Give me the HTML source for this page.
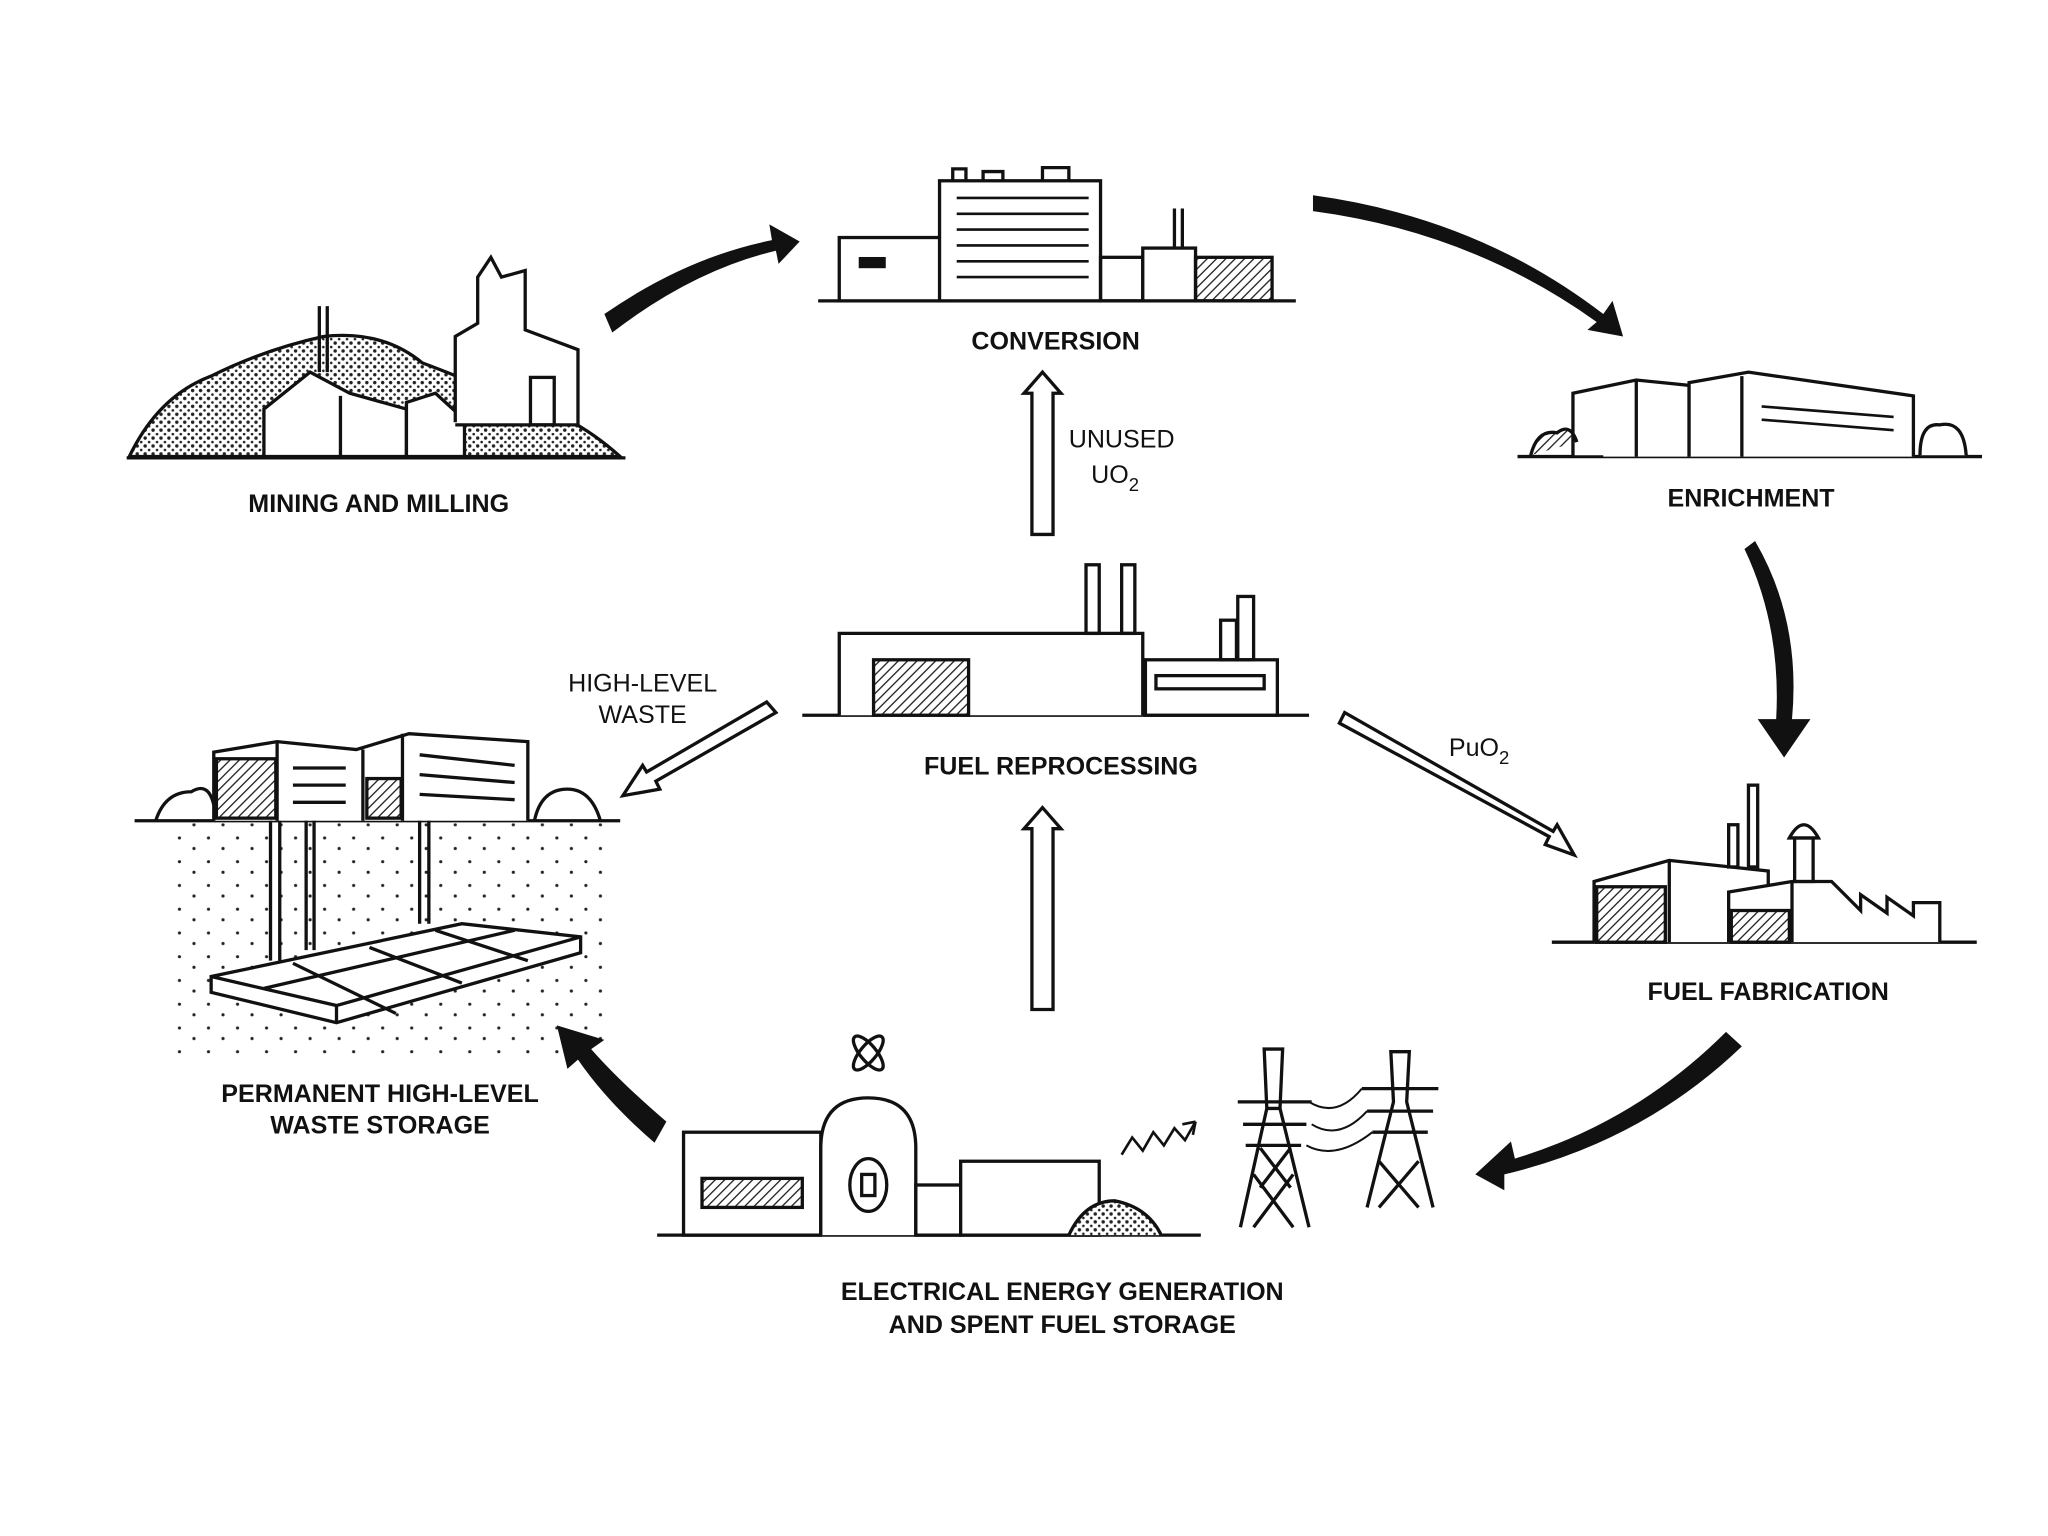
<!DOCTYPE html>
<html><head><meta charset="utf-8"><style>
html,body{margin:0;padding:0;background:#fff}
svg{display:block}
text{font-family:"Liberation Sans",Arial,sans-serif;fill:#111}
.b{font-weight:bold;font-size:19px}
.n{font-size:19px}
</style></head><body>
<svg width="2048" height="1536" viewBox="0 0 1552 1164" xmlns="http://www.w3.org/2000/svg">
<defs>
<pattern id="dots" width="6" height="6" patternUnits="userSpaceOnUse"><rect width="6" height="6" fill="#fff"/><circle cx="2" cy="2" r="1.3" fill="#222"/><circle cx="5" cy="5" r="1" fill="#222"/></pattern>
<pattern id="sdots" width="22" height="18" patternUnits="userSpaceOnUse"><circle cx="4" cy="5" r="1.2" fill="#222"/><circle cx="15" cy="13" r="1.2" fill="#222"/></pattern>
<pattern id="hatch" width="5" height="5" patternUnits="userSpaceOnUse" patternTransform="rotate(45)"><line x1="0" y1="0" x2="0" y2="5" stroke="#222" stroke-width="2"/></pattern>
</defs>
<g fill="none" stroke="#111" stroke-width="2.5">
<!-- Mining -->
<path d="M98 346 Q120 300 160 285 Q200 265 245 255 Q290 250 320 275 Q360 290 380 300 Q430 310 470 346 Z" fill="url(#dots)"/>
<line x1="96" y1="347" x2="474" y2="347"/>
<path d="M200 346 V310 L235 282 L265 298 L308 310 V346 Z M258 300 V346" fill="#fff"/>
<path d="M308 346 V305 L330 298 L352 318 V346 Z" fill="#fff"/>
<path d="M345 320 V255 L362 245 V210 L372 195 L380 210 L398 205 V250 L438 265 V322 H345" fill="#fff"/>
<rect x="402" y="286" width="18" height="36"/>
<line x1="242" y1="232" x2="242" y2="282"/><line x1="248" y1="232" x2="248" y2="282"/>
<!-- Conversion -->
<line x1="620" y1="228" x2="982" y2="228"/>
<rect x="636" y="180" width="88" height="48" fill="#fff"/>
<rect x="652" y="196" width="18" height="6" fill="#111"/>
<rect x="712" y="137" width="122" height="91" fill="#fff"/>
<path d="M722 137 V128 H732 V137 M745 137 V130 H760 V137 M790 137 V127 H810 V137"/>
<g stroke-width="2"><line x1="725" y1="150" x2="825" y2="150"/><line x1="725" y1="162" x2="825" y2="162"/><line x1="725" y1="174" x2="825" y2="174"/><line x1="725" y1="186" x2="825" y2="186"/><line x1="725" y1="198" x2="825" y2="198"/><line x1="725" y1="210" x2="825" y2="210"/></g>
<rect x="834" y="195" width="32" height="33"/>
<rect x="866" y="188" width="40" height="40" fill="#fff"/>
<line x1="890" y1="158" x2="890" y2="188"/><line x1="896" y1="158" x2="896" y2="188"/>
<rect x="906" y="195" width="58" height="33" fill="url(#hatch)"/>
<!-- Enrichment -->
<line x1="1150" y1="346" x2="1502" y2="346"/>
<path d="M1192 346 V298 L1240 288 L1280 292 V346" fill="#fff"/>
<path d="M1192 300 V346 H1215" stroke-width="2"/>
<line x1="1240" y1="288" x2="1240" y2="346"/>
<path d="M1280 346 V290 L1325 282 L1450 300 V346" fill="#fff"/>
<line x1="1320" y1="285" x2="1320" y2="346"/>
<line x1="1335" y1="308" x2="1435" y2="316" stroke-width="2"/><line x1="1335" y1="318" x2="1435" y2="326" stroke-width="2"/>
<path d="M1160 345 Q1165 325 1180 328 Q1190 320 1195 335" fill="url(#hatch)"/>
<path d="M1455 345 Q1455 320 1470 322 Q1488 318 1490 345" fill="#fff"/>
<!-- Fuel reprocessing -->
<line x1="608" y1="542" x2="992" y2="542"/>
<path d="M636 542 V480 H866 V542" fill="#fff"/>
<rect x="662" y="500" width="72" height="42" fill="url(#hatch)"/>
<rect x="823" y="428" width="10" height="52"/><rect x="850" y="428" width="10" height="52"/>
<rect x="868" y="500" width="100" height="42" fill="#fff"/>
<rect x="876" y="512" width="82" height="10"/>
<rect x="925" y="470" width="12" height="30"/><rect x="938" y="452" width="12" height="48"/>
<!-- Waste storage -->
<line x1="102" y1="622" x2="470" y2="622"/>
<path d="M162 622 V570 L210 562 L270 568 L310 556 L400 562 V622" fill="#fff"/>
<line x1="210" y1="562" x2="210" y2="622"/>
<line x1="275" y1="568" x2="275" y2="622"/>
<line x1="305" y1="556" x2="305" y2="622"/>
<rect x="164" y="575" width="45" height="45" fill="url(#hatch)"/>
<rect x="278" y="590" width="26" height="30" fill="url(#hatch)"/>
<line x1="222" y1="582" x2="262" y2="582"/><line x1="222" y1="595" x2="262" y2="595"/><line x1="222" y1="608" x2="262" y2="608"/>
<line x1="318" y1="572" x2="390" y2="580"/><line x1="318" y1="587" x2="390" y2="593"/><line x1="318" y1="602" x2="390" y2="606"/>
<path d="M118 622 Q125 600 145 600 Q158 592 162 610"/>
<path d="M405 622 Q410 598 430 598 Q448 598 455 622"/>
<rect x="130" y="624" width="330" height="175" fill="url(#sdots)" stroke="none"/>
<line x1="205" y1="622" x2="205" y2="728"/><line x1="212" y1="622" x2="212" y2="728"/>
<line x1="232" y1="622" x2="232" y2="720"/><line x1="238" y1="622" x2="238" y2="720"/>
<line x1="318" y1="622" x2="318" y2="700"/><line x1="325" y1="622" x2="325" y2="700"/>
<path d="M160 740 L350 700 L440 710 L440 722 L255 775 L160 752 Z" fill="#fff"/>
<path d="M160 740 L255 762 L440 710 M255 762 V775 M200 749 L390 705 M222 730 L300 768 M280 718 L350 745 M330 705 L400 728"/>
<!-- Fuel fabrication -->
<line x1="1176" y1="714" x2="1498" y2="714"/>
<path d="M1208 714 V668 L1265 652 L1340 660 V714" fill="#fff"/>
<rect x="1210" y="672" width="52" height="42" fill="url(#hatch)"/>
<line x1="1265" y1="652" x2="1265" y2="714"/>
<rect x="1310" y="625" width="7" height="32"/><rect x="1325" y="595" width="7" height="62"/>
<path d="M1310 714 V676 L1358 668 H1388 L1410 690 V678 L1430 692 V680 L1450 694 V684 L1470 684 V714" fill="#fff"/>
<line x1="1358" y1="668" x2="1358" y2="714"/>
<rect x="1312" y="690" width="44" height="24" fill="url(#hatch)"/>
<rect x="1360" y="635" width="14" height="33" fill="#fff"/>
<path d="M1356 635 Q1367 615 1378 635 Z" fill="#fff"/>
<!-- Reactor -->
<line x1="498" y1="936" x2="910" y2="936"/>
<rect x="518" y="858" width="104" height="78" fill="#fff"/>
<rect x="532" y="893" width="76" height="22" fill="url(#hatch)"/>
<path d="M622 936 V870 Q622 832 658 832 Q694 832 694 870 V936" fill="#fff"/>
<ellipse cx="658" cy="898" rx="14" ry="20"/><rect x="653" y="890" width="10" height="16"/>
<rect x="694" y="898" width="34" height="38"/>
<rect x="728" y="880" width="105" height="56" fill="#fff"/>
<path d="M810 936 Q822 910 845 910 Q870 915 880 936" fill="url(#dots)"/>
<ellipse cx="658" cy="798" rx="6" ry="16" transform="rotate(40 658 798)"/>
<ellipse cx="658" cy="798" rx="6" ry="16" transform="rotate(-40 658 798)"/>
<path d="M850 875 L858 862 L866 872 L874 858 L882 868 L890 855 L898 864 L906 850" stroke-width="2"/>
<path d="M906 850 l-10 2 m10 -2 l-2 10" stroke-width="2"/>
<!-- towers -->
<g stroke-width="2.5">
<path d="M940 930 L960 840 L958 795 L972 795 L970 840 L992 930 M960 840 H970 M938 835 H994 M942 852 H990 M944 868 H986 M950 890 L980 930 M980 890 L950 930 M955 870 L978 900 M978 870 L955 900"/>
<path d="M1036 915 L1056 835 L1054 797 L1068 797 L1066 835 L1086 915 M1032 825 H1090 M1036 842 H1086 M1040 858 H1082 M1045 880 L1075 915 M1075 880 L1045 915"/>
<path d="M992 835 Q1013 848 1032 825 M994 852 Q1015 865 1036 842 M990 868 Q1012 880 1040 858" stroke-width="1.5"/>
</g>
</g>
<!-- black curved arrows -->
<g fill="#111" stroke="none">
<path d="M458 238 Q520 195 585 182 L583 170 L606 183 L590 200 L588 190 Q525 205 464 252 Z"/>
<path d="M995 148 Q1120 165 1215 238 L1222 228 L1230 255 L1203 250 L1210 244 Q1115 176 995 160 Z"/>
<path d="M1330 410 Q1365 470 1358 545 L1372 545 L1352 574 L1332 545 L1346 545 Q1350 475 1322 416 Z"/>
<path d="M1308 782 Q1240 850 1148 878 L1145 865 L1118 890 L1140 902 L1140 890 Q1245 865 1320 793 Z"/>
<path d="M505 850 Q470 820 448 795 L458 788 L422 777 L430 810 L438 803 Q460 835 496 866 Z"/>
</g>
<!-- hollow arrows -->
<g fill="#fff" stroke="#111" stroke-width="2.5" stroke-linejoin="miter">
<path d="M782 405 V298 H776 L790 282 L804 298 H798 V405 Z"/>
<path d="M782 765 V628 H776 L790 612 L804 628 H798 V765 Z"/>
<path d="M588 540 L497 592 L500 598 L472 603 L487 580 L490 585 L581 532 Z"/>
<path d="M1015 548 L1174 634 L1171 640 L1193 648 L1180 625 L1177 630 L1019 540 Z"/>
</g>
<!-- labels -->
<text class="b" x="800" y="265" text-anchor="middle">CONVERSION</text>
<text class="b" x="287" y="388" text-anchor="middle">MINING AND MILLING</text>
<text class="b" x="1327" y="384" text-anchor="middle">ENRICHMENT</text>
<text class="b" x="804" y="587" text-anchor="middle">FUEL REPROCESSING</text>
<text class="b" x="1340" y="758" text-anchor="middle">FUEL FABRICATION</text>
<text class="b" x="288" y="835" text-anchor="middle">PERMANENT HIGH-LEVEL</text>
<text class="b" x="288" y="859" text-anchor="middle">WASTE STORAGE</text>
<text class="b" x="805" y="985" text-anchor="middle">ELECTRICAL ENERGY GENERATION</text>
<text class="b" x="805" y="1010" text-anchor="middle">AND SPENT FUEL STORAGE</text>
<text class="n" x="487" y="524" text-anchor="middle">HIGH-LEVEL</text>
<text class="n" x="487" y="548" text-anchor="middle">WASTE</text>
<text class="n" x="850" y="339" text-anchor="middle">UNUSED</text>
<text class="n" x="845" y="366" text-anchor="middle">UO<tspan font-size="14" dy="6">2</tspan></text>
<text class="n" x="1098" y="573">PuO<tspan font-size="14" dy="6">2</tspan></text>
</svg>
</body></html>
